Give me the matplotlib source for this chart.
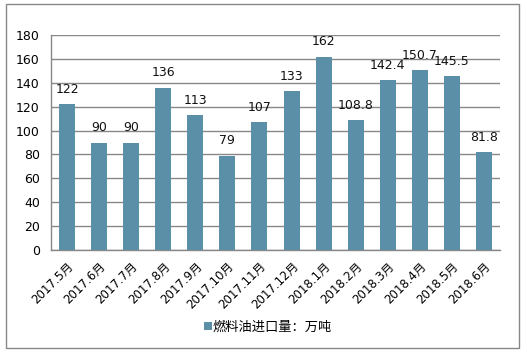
import matplotlib
matplotlib.use('Agg')
import matplotlib.pyplot as plt
from matplotlib.patches import Rectangle

plt.rcParams['font.family'] = ['DejaVu Sans', 'Noto Sans CJK SC']

months = ['2017.5月', '2017.6月', '2017.7月', '2017.8月', '2017.9月', '2017.10月',
          '2017.11月', '2017.12月', '2018.1月', '2018.2月', '2018.3月', '2018.4月',
          '2018.5月', '2018.6月']
imports = [122, 90, 90, 136, 113, 79, 107, 133, 162, 108.8, 142.4, 150.7, 145.5, 81.8]
labels = ['122', '90', '90', '136', '113', '79', '107', '133', '162', '108.8',
          '142.4', '150.7', '145.5', '81.8']
yticks = [0, 20, 40, 60, 80, 100, 120, 140, 160, 180]
series_name = '燃料油进口量：万吨'

fig = plt.figure(figsize=(5.27, 3.55), dpi=100)
ax = fig.add_axes([51 / 527, 105 / 355, 449 / 527, 215 / 355])

x = range(len(months))
bars = ax.bar(x, imports, width=0.5, color='#5B8FA8', label=series_name, zorder=3)

for xi, v, t in zip(x, imports, labels):
    ax.text(xi, v + 7, t, ha='center', va='bottom', fontsize=9, color='#111111')

ax.set_xlim(-0.5, len(months) - 0.5)
ax.set_ylim(0, 180)
ax.set_yticks(yticks)
ax.tick_params(axis='y', length=0, labelsize=9, pad=8)
ax.tick_params(axis='x', length=0, labelsize=8.5, pad=7)
ax.set_xticks(list(x))
ax.set_xticklabels(months, rotation=45, ha='right', rotation_mode='anchor')
ax.grid(axis='y', color='#888888', linewidth=1, zorder=0)

for side in ['top', 'right']:
    ax.spines[side].set_visible(False)
for side in ['left', 'bottom']:
    ax.spines[side].set_color('#888888')
    ax.spines[side].set_linewidth(1)

fig.legend(handles=[bars], labels=[series_name], loc='center',
           bbox_to_anchor=(268 / 527, 1 - 327 / 355), frameon=False,
           fontsize=9.5, handlelength=0.6, handleheight=0.6, handletextpad=0.1)

# outer chart border
fig.patches.append(Rectangle((6 / 527, 1 - 348 / 355), 513 / 527, 344 / 355,
                             transform=fig.transFigure, fill=False,
                             edgecolor='#888888', linewidth=1))

plt.savefig('out.png', dpi=100)
